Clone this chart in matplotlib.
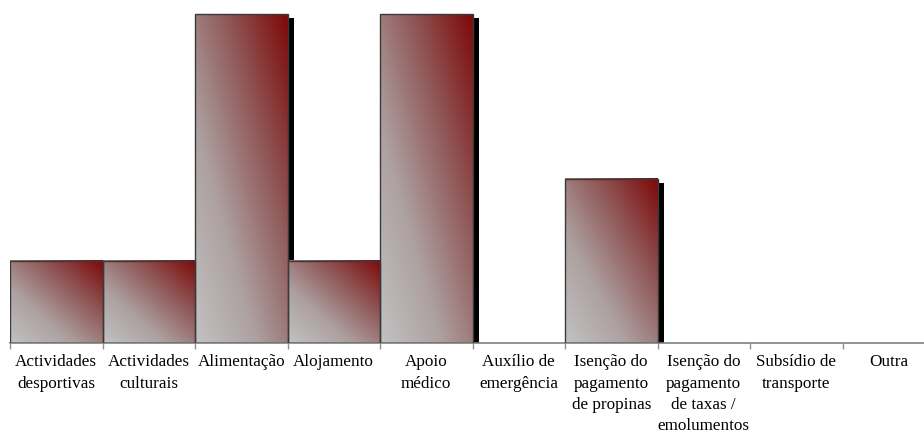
import numpy as np
import matplotlib
matplotlib.use('Agg')
import matplotlib.pyplot as plt
from matplotlib.colors import LinearSegmentedColormap
from matplotlib.patches import Rectangle
from matplotlib.transforms import offset_copy

# apoios sociais mencionados (contagens)
categorias = ['Actividades\ndesportivas', 'Actividades\nculturais', 'Alimentação',
              'Alojamento', 'Apoio\nmédico', 'Auxílio de\nemergência',
              'Isenção do\npagamento\nde propinas',
              'Isenção do\npagamento\nde taxas /\nemolumentos',
              'Subsídio de\ntransporte', 'Outra']
valores = [1, 1, 4, 1, 4, 0, 2, 0, 0, 0]

plt.rcParams['font.family'] = ['Liberation Serif', 'DejaVu Serif']

W, H = 924, 434
fig = plt.figure(figsize=(W / 100, H / 100), dpi=100)
# eixo começa a 10 px da esquerda e a última categoria sai um pouco da figura
ax = fig.add_axes([10 / W, (H - 343) / H, 925 / W, 343 / H])

ytop = 4 * 343 / 329

# gradiente diagonal: cinzento em baixo à esquerda, bordeaux em cima à direita
cmap = LinearSegmentedColormap.from_list('grad', ['#C2C2C2', '#ADA0A0', '#905858', '#7E0808'])
n = 128
u = np.linspace(0, 1, n)
U, V = np.meshgrid(u, u)
grad = (U + V) / 2

sombra = offset_copy(ax.transData, fig=fig, x=6, y=-4, units='dots')

for i, v in enumerate(valores):
    if v <= 0:
        continue
    ax.add_patch(Rectangle((i, 0), 1, v, facecolor='black', edgecolor='none',
                           transform=sombra, zorder=1))
for i, v in enumerate(valores):
    if v <= 0:
        continue
    ax.imshow(grad, cmap=cmap, vmin=0, vmax=1, origin='lower', aspect='auto',
              extent=[i, i + 1, 0, v], interpolation='bilinear', zorder=2)
    ax.add_patch(Rectangle((i, 0), 1, v, facecolor='none', edgecolor='#3a3a3a',
                           linewidth=1.0, zorder=3))

ax.set_xlim(0, len(categorias))
ax.set_ylim(0, ytop)

for s in ['top', 'right', 'left']:
    ax.spines[s].set_visible(False)
ax.spines['bottom'].set_color('#808080')
ax.spines['bottom'].set_linewidth(1.2)
ax.set_yticks([])

ax.set_xticks(np.arange(len(categorias) + 1))
ax.set_xticklabels([])
ax.tick_params(axis='x', which='major', length=4, width=1, color='#909090', direction='out')
ax.set_xticks(np.arange(len(categorias)) + 0.5, minor=True)
ax.set_xticklabels(categorias, minor=True, fontsize=12.3, linespacing=1.45)
ax.tick_params(axis='x', which='minor', length=0, pad=8)

fig.savefig('out.png', dpi=100)
